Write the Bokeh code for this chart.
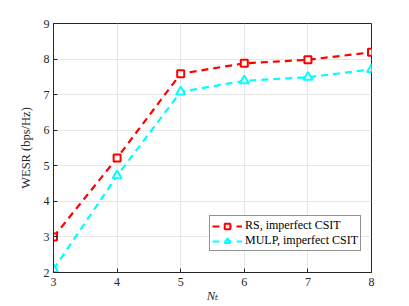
from bokeh.plotting import figure
from bokeh.models import Legend, LegendItem, Range1d, FixedTicker
from bokeh.embed import file_html
from bokeh.resources import INLINE

nt = [3, 4, 5, 6, 7, 8]
rs_vals = [3.0, 5.22, 7.59, 7.88, 7.98, 8.19]
mulp_vals = [2.09, 4.72, 7.08, 7.39, 7.49, 7.71]
x_ticks = [3, 4, 5, 6, 7, 8]
y_ticks = [2, 3, 4, 5, 6, 7, 8, 9]
labels = ["RS, imperfect CSIT", "MULP, imperfect CSIT"]

FONT = "'Liberation Serif', 'DejaVu Serif', serif"

p = figure(frame_width=318, frame_height=249, output_backend="svg", toolbar_location=None,
           x_range=Range1d(3, 8), y_range=Range1d(2, 9),
           min_border_left=53, min_border_right=30, min_border_top=23, min_border_bottom=20)

p.outline_line_color = "#262626"
p.outline_line_width = 1
p.background_fill_color = "white"
p.border_fill_color = "white"

for ax in (p.xaxis[0], p.yaxis[0]):
    ax.major_tick_in = 4
    ax.major_tick_out = 0
    ax.minor_tick_line_color = None
    ax.axis_line_color = "#262626"
    ax.major_tick_line_color = "#262626"
    ax.major_label_text_font = FONT
    ax.major_label_text_font_size = "12px"
    ax.major_label_text_color = "#262626"
    ax.axis_label_text_font = FONT
    ax.axis_label_text_font_size = "12.5px"
    ax.axis_label_text_color = "#262626"
    ax.axis_label_text_font_style = "normal"

p.xaxis.ticker = FixedTicker(ticks=x_ticks)
p.yaxis.ticker = FixedTicker(ticks=y_ticks)
p.xaxis.axis_label = "N\u209c"
p.xaxis.axis_label_text_font_style = "italic"
p.yaxis.axis_label = "WESR (bps/Hz)"
p.xaxis.major_label_standoff = 5
p.xaxis.axis_label_standoff = 0
p.yaxis.major_label_standoff = 4
p.yaxis.axis_label_standoff = 8

p.xgrid.grid_line_color = "#e6e6e6"
p.ygrid.grid_line_color = "#e6e6e6"

l1 = p.line(nt, rs_vals, line_color="red", line_width=2.2, line_dash="7 5")
m1 = p.scatter(nt, rs_vals, marker="square", size=7, line_color="red",
               fill_color="white", line_width=2)
l2 = p.line(nt, mulp_vals, line_color="cyan", line_width=2.2, line_dash="7 5")
m2 = p.scatter(nt, mulp_vals, marker="triangle", size=9, line_color="cyan",
               fill_color="white", line_width=2)

legend = Legend(items=[LegendItem(label=labels[0], renderers=[l1, m1]),
                       LegendItem(label=labels[1], renderers=[l2, m2])],
                location=(156, 21))
legend.label_text_font = FONT
legend.label_text_font_size = "12px"
legend.label_text_color = "black"
legend.border_line_color = "#262626"
legend.border_line_width = 1
legend.padding = 2
legend.spacing = 0
legend.margin = 0
legend.glyph_width = 30
legend.glyph_height = 14
legend.label_standoff = 3
legend.label_height = 14
p.add_layout(legend)

open("out.html", "w").write(file_html(p, INLINE))
